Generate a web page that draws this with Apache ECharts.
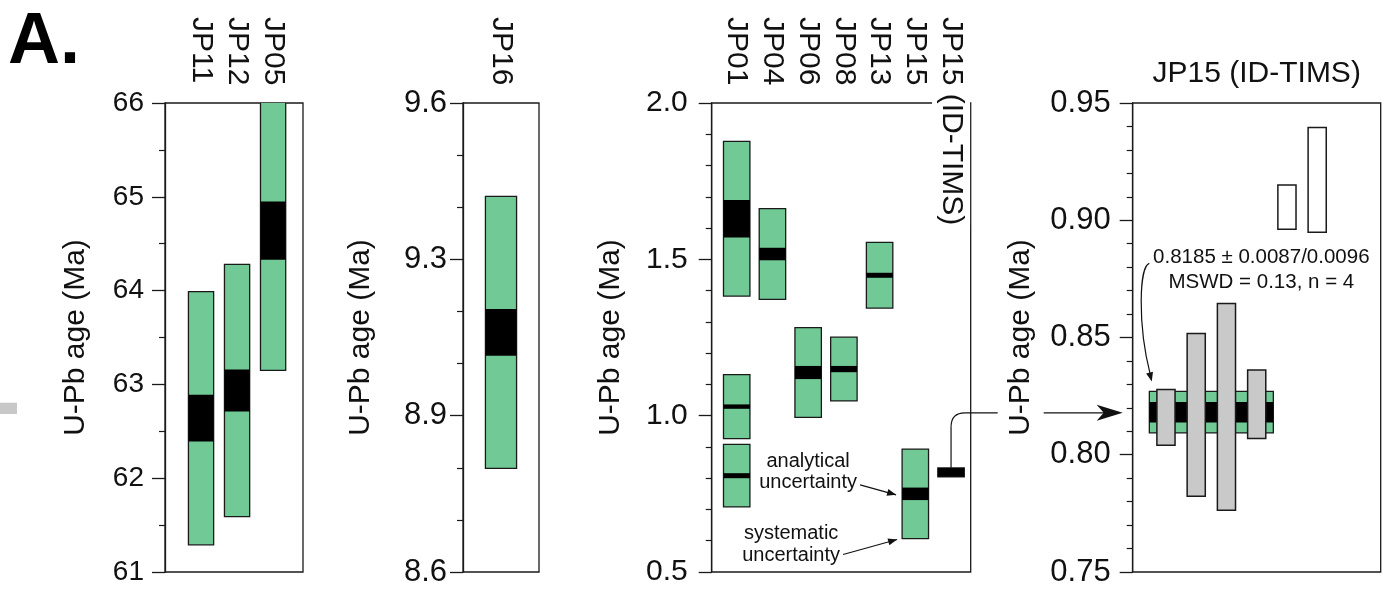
<!DOCTYPE html>
<html>
<head>
<meta charset="utf-8">
<script src="https://cdn.jsdelivr.net/npm/echarts@6/dist/echarts.min.js"></script>
<style>
  html, body { margin: 0; background: #fff; }
  #main { width: 1389px; height: 603px; }
</style>
</head>
<body>
<div id="main"></div>
<script>
// U-Pb ages (Ma): centre, analytical half-width, systematic half-width
const p1Names = ['JP11', 'JP12', 'JP05'];
const p1Pos = [1, 2, 3];
const p1Age = [62.64, 62.935, 64.64];
const p1Ana = [0.25, 0.225, 0.31];
const p1Sys = [1.35, 1.345, 1.49];

const p2Names = ['JP16'];
const p2Pos = [1];
const p2Age = [9.111];
const p2Ana = [0.05];
const p2Sys = [0.29];

const p3Names = ['JP01', 'JP04', 'JP06', 'JP08', 'JP13', 'JP15', 'JP15 (ID-TIMS)'];
const p3Pos = [1, 1, 1, 2, 3, 4, 5, 6, 7];
const p3Age = [1.630, 1.029, 0.808, 1.517, 1.138, 1.149, 1.449, 0.750, 0.8185];
const p3Ana = [0.060, 0.007, 0.008, 0.020, 0.021, 0.010, 0.008, 0.020, 0.014];
const p3Sys = [0.2475, 0.1025, 0.100, 0.145, 0.1435, 0.102, 0.105, 0.143, 0.0145];

// JP15 ID-TIMS single analyses (2 sigma), 1 = used in the mean
const p4Pos = [1, 2, 3, 4, 5, 6];
const p4Age = [0.8159, 0.8170, 0.8204, 0.8215, 0.9056, 0.9172];
const p4Err = [0.0119, 0.0347, 0.0441, 0.0146, 0.0094, 0.0223];
const p4Used = [1, 1, 1, 1, 0, 0];
const wmAge = 0.8185;
const wmSysBand = [0.8093, 0.8270];
const wmAnaBand = [0.8138, 0.8225];
const wmText = '0.8185 \u00b1 0.0087/0.0096\nMSWD = 0.13, n = 4';

const yTicks = [
  { min: 61, max: 66, interval: 1, minor: 2, digits: 0 },
  { min: 8.6, max: 9.6, interval: 1 / 3, minor: 3, digits: 1 },
  { min: 0.5, max: 2.0, interval: 0.5, minor: 5, digits: 1 },
  { min: 0.75, max: 0.95, interval: 0.05, minor: 5, digits: 2 }
];

const FONT = "'Liberation Sans', Arial, sans-serif";
const GREEN = '#71c995';
const EDGE = '#1a1a1a';

const chart = echarts.init(document.getElementById('main'));

const grids = [
  { left: 165, width: 138 },
  { left: 463, width: 76 },
  { left: 711.7, width: 259 },
  { left: 1132.7, width: 248 }
].map(g => ({
  left: g.left, width: g.width, top: 103, height: 469,
  show: true, borderColor: EDGE, borderWidth: 1.3, backgroundColor: 'transparent',
  containLabel: false, outerBoundsMode: 'none'
}));

const xRange = [[0, 3.83], [0, 2], [0.3, 7.55], [-0.1, 8.1]];

const xAxes = xRange.map((r, i) => ({
  type: 'value', gridIndex: i, position: 'top', min: r[0], max: r[1],
  axisLine: { show: false }, axisTick: { show: false }, splitLine: { show: false },
  axisLabel: { show: false },
  name: i === 3 ? 'JP15 (ID-TIMS)' : '',
  nameLocation: 'middle', nameGap: 14, nameMoveOverlap: false,
  nameTextStyle: { fontFamily: FONT, fontSize: 30, color: '#111' }
}));

const labelSizes = [28, 31, 30, 31];
const labelMargins = [21, 16, 24, 22];
const nameGaps = [74, 87, 86, 89];
const yAxes = yTicks.map((t, i) => ({
  type: 'value', gridIndex: i, min: t.min, max: t.max, interval: t.interval,
  z: i === 3 ? 10 : 2,
  axisLine: { show: true, onZero: false, lineStyle: { color: EDGE, width: 1.3 } },
  axisTick: { show: true, length: 13, lineStyle: { color: EDGE, width: 1.3 } },
  minorTick: { show: true, splitNumber: t.minor, length: 6, lineStyle: { color: EDGE, width: 1.2 } },
  splitLine: { show: false },
  axisLabel: {
    margin: labelMargins[i], fontFamily: FONT, fontSize: labelSizes[i], color: '#111',
    showMinLabel: true, showMaxLabel: true,
    formatter: v => v.toFixed(t.digits)
  },
  name: 'U-Pb age (Ma)', nameLocation: 'middle', nameGap: nameGaps[i], nameMoveOverlap: false,
  nameTextStyle: Object.assign({ fontFamily: FONT, fontSize: 30, color: '#111' },
    i === 3 ? { backgroundColor: '#fff', padding: [8, 4] } : {})
}));

function makeBox(widthUnits) {
  return function (params, api) {
    const x = api.value(0), age = api.value(1), ana = api.value(2), sys = api.value(3);
    const hw = api.size([widthUnits, 0])[0] / 2;
    const cx = api.coord([x, age])[0];
    const sTop = api.coord([x, age + sys])[1], sBot = api.coord([x, age - sys])[1];
    const aTop = api.coord([x, age + ana])[1], aBot = api.coord([x, age - ana])[1];
    return {
      type: 'group',
      children: [
        { type: 'rect', shape: { x: cx - hw, y: sTop, width: 2 * hw, height: sBot - sTop },
          style: { fill: GREEN, stroke: EDGE, lineWidth: 1.3 } },
        { type: 'rect', shape: { x: cx - hw, y: aTop, width: 2 * hw, height: aBot - aTop },
          style: { fill: '#000' } }
      ]
    };
  };
}

function rows(pos, age, ana, sys) {
  return pos.map((p, i) => [p, age[i], ana[i], sys[i]]);
}

// sample names written downward above each panel, starting at a common top line
function nameSeries(i, names) {
  return {
    type: 'custom', xAxisIndex: i, yAxisIndex: i, clip: false, silent: true, z: 4,
    data: names.map((n, k) => [k + 1]),
    renderItem(params, api) {
      const x = api.coord([api.value(0), yTicks[i].max])[0];
      return {
        type: 'text', rotation: -Math.PI / 2, x: x, y: params.coordSys.y - 86,
        style: {
          text: names[params.dataIndex], font: '30px ' + FONT, fill: '#111',
          align: 'left', verticalAlign: 'middle', lineHeight: 30,
          backgroundColor: '#fff', padding: [0, 0, 8, 0]
        }
      };
    }
  };
}

const usedPos = p4Pos.filter((p, i) => p4Used[i]);
const bandData = [[Math.min(...usedPos) - 0.55, Math.max(...usedPos) + 0.55,
  wmSysBand[0], wmSysBand[1], wmAnaBand[0], wmAnaBand[1]]];

const series = [
  { type: 'custom', xAxisIndex: 0, yAxisIndex: 0, clip: true, renderItem: makeBox(0.7),
    data: rows(p1Pos, p1Age, p1Ana, p1Sys) },
  { type: 'custom', xAxisIndex: 1, yAxisIndex: 1, clip: true, renderItem: makeBox(0.82),
    data: rows(p2Pos, p2Age, p2Ana, p2Sys) },
  { type: 'custom', xAxisIndex: 2, yAxisIndex: 2, clip: true, renderItem: makeBox(0.74),
    data: rows(p3Pos, p3Age, p3Ana, p3Sys) },
  { type: 'custom', xAxisIndex: 3, yAxisIndex: 3, clip: true,
    data: bandData,
    renderItem(params, api) {
      const a = api.coord([api.value(0), api.value(3)]), b = api.coord([api.value(1), api.value(2)]);
      const c = api.coord([api.value(0), api.value(5)]), d = api.coord([api.value(1), api.value(4)]);
      return {
        type: 'group',
        children: [
          { type: 'rect', shape: { x: a[0], y: a[1], width: b[0] - a[0], height: b[1] - a[1] },
            style: { fill: GREEN, stroke: EDGE, lineWidth: 1.3 } },
          { type: 'rect', shape: { x: c[0], y: c[1], width: d[0] - c[0], height: d[1] - c[1] },
            style: { fill: '#000' } }
        ]
      };
    }
  },
  { type: 'custom', xAxisIndex: 3, yAxisIndex: 3, clip: true,
    data: p4Pos.map((p, i) => [p, p4Age[i], p4Err[i], p4Used[i]]),
    renderItem(params, api) {
      const x = api.value(0), age = api.value(1), err = api.value(2);
      const hw = api.size([0.6, 0])[0] / 2;
      const top = api.coord([x, age + err]), bot = api.coord([x, age - err]);
      return {
        type: 'rect',
        shape: { x: top[0] - hw, y: top[1], width: 2 * hw, height: bot[1] - top[1] },
        style: { fill: api.value(3) ? '#c9c9c9' : '#fff', stroke: EDGE, lineWidth: 1.5 }
      };
    }
  },
  nameSeries(0, p1Names),
  nameSeries(1, p2Names),
  nameSeries(2, p3Names)
];

chart.setOption({
  animation: false,
  backgroundColor: '#fff',
  title: {
    text: 'A.', left: 8, top: 7, padding: 0,
    textStyle: { fontFamily: FONT, fontSize: 72, fontWeight: 'bold', color: '#000' }
  },
  grid: grids,
  xAxis: xAxes,
  yAxis: yAxes,
  series: series
});

// annotations placed from data coordinates
function arrowHead(tip, from, len, half) {
  const dx = tip[0] - from[0], dy = tip[1] - from[1], d = Math.hypot(dx, dy);
  const ux = dx / d, uy = dy / d;
  const bx = tip[0] - ux * len, by = tip[1] - uy * len;
  return { type: 'polygon', z: 5,
    shape: { points: [tip, [bx - uy * half, by + ux * half], [bx + uy * half, by - ux * half]] },
    style: { fill: '#111' } };
}
function line(a, b, z) {
  return { type: 'line', z: z || 5, shape: { x1: a[0], y1: a[1], x2: b[0], y2: b[1] },
    style: { stroke: '#111', lineWidth: 1.2 } };
}
function label(text, at, size, lh) {
  return { type: 'text', z: 5, x: at[0], y: at[1],
    style: { text: text, font: size + 'px ' + FONT, fill: '#111', align: 'center',
      verticalAlign: 'middle', lineHeight: lh } };
}

const g3 = v => chart.convertToPixel({ gridIndex: 2 }, v);
const g4 = v => chart.convertToPixel({ gridIndex: 3 }, v);

// ID-TIMS bar in panel 3 -> weighted mean in panel 4
const iT = p3Pos.length - 1;
const barTop = g3([p3Pos[iT], p3Age[iT] + p3Ana[iT]]);
const target = g4([xRange[3][0], wmAge]);
const tipX = target[0] - 10, yc = target[1] + 1.5, r = 14;
const bx = barTop[0];
const connector = [
  line(barTop, [bx, yc + r], 1),
  { type: 'bezierCurve', z: 1,
    shape: { x1: bx, y1: yc + r, cpx1: bx, cpy1: yc, x2: bx + r, y2: yc },
    style: { fill: 'none', stroke: '#111', lineWidth: 1.2 } },
  line([bx + r, yc], [tipX - 18, yc], 1),
  { type: 'polygon', z: 1,
    shape: { points: [[tipX, yc], [tipX - 26, yc - 8], [tipX - 19, yc], [tipX - 26, yc + 8]] },
    style: { fill: '#111' } }
];

// uncertainty legend arrows on JP15
const i15 = p3Pos.indexOf(6);
const left15 = g3([p3Pos[i15] - 0.37, p3Age[i15]]);
const aTip = [left15[0] - 6, left15[1] + 1];
const aTail = [aTip[0] - 36, aTip[1] - 10];
const sTip0 = g3([p3Pos[i15] - 0.37, p3Age[i15] - p3Sys[i15]]);
const sTip = [sTip0[0] - 5, sTip0[1] + 1];
const sTail = [sTip[0] - 54, sTip[1] + 15];

// weighted-mean note in panel 4
const bandCorner = g4([bandData[0][0], wmSysBand[1]]);
const wTip = [bandCorner[0] + 2.4, bandCorner[1] - 10];
const wStart = [bandCorner[0], bandCorner[1] - 128];
const wC1 = [wStart[0] - 10, wStart[1] + 3], wC2 = [wStart[0] - 12, wStart[1] + 60];
const wEnd = [wTip[0] - 1.5, wTip[1] - 7];

chart.setOption({
  graphic: [
    { type: 'rect', shape: { x: 0, y: 402.7, width: 17, height: 11.3 }, style: { fill: '#c8c8c8' } }
  ].concat(connector, [
    line(aTail, aTip), arrowHead(aTip, aTail, 9, 3.5),
    label('analytical\nuncertainty', [aTip[0] - 88, aTip[1] - 23], 20, 21.5),
    line(sTail, sTip), arrowHead(sTip, sTail, 9, 3.5),
    label('systematic\nuncertainty', [sTip[0] - 106, sTip[1] + 5], 20, 21.5),
    { type: 'bezierCurve', z: 5,
      shape: { x1: wStart[0], y1: wStart[1], cpx1: wC1[0], cpy1: wC1[1], cpx2: wC2[0], cpy2: wC2[1], x2: wEnd[0], y2: wEnd[1] },
      style: { fill: 'none', stroke: '#111', lineWidth: 1.2 } },
    arrowHead(wTip, wC2, 9, 3.5),
    label(wmText, [bandCorner[0] + 112, bandCorner[1] - 121.5], 20.5, 25.7)
  ])
});
</script>
</body>
</html>
